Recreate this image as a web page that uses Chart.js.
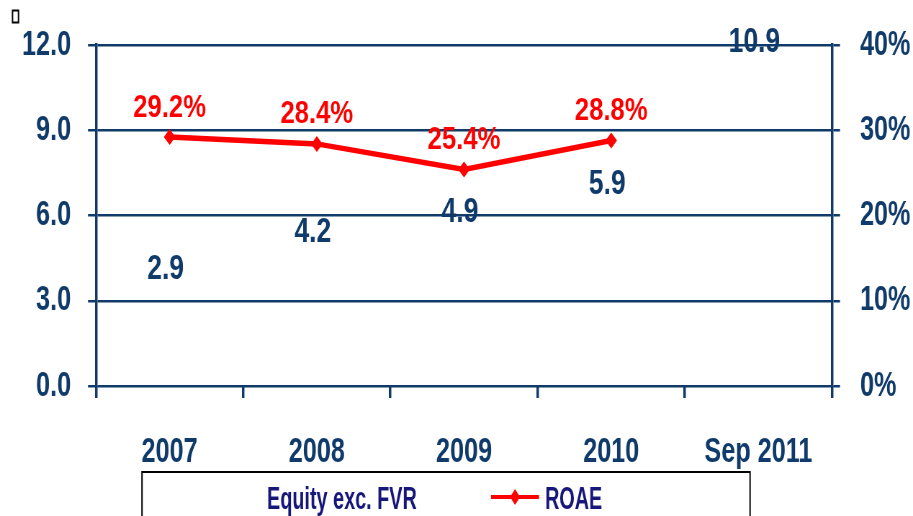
<!DOCTYPE html>
<html>
<head>
<meta charset="utf-8">
<script src="https://cdn.jsdelivr.net/npm/chart.js@4.4.1/dist/chart.umd.min.js"></script>
<style>
  html, body { margin: 0; padding: 0; background: #ffffff; overflow: hidden; }
  #wrap { width: 913px; height: 516px; position: relative; overflow: hidden; }
  #c { display: block; }
</style>
</head>
<body>
<div id="wrap"><canvas id="c"></canvas></div>
<script>
// Years on the category axis
const categories = ['2007', '2008', '2009', '2010', 'Sep 2011'];
// Equity excluding fair value reserve (left axis)
const equityExcFVR = [2.9, 4.2, 4.9, 5.9, 10.9];
// Return on average equity, % (right axis)
const roae = [29.2, 28.4, 25.4, 28.8, null];
// Axis tick values
const leftTicks = [0, 3, 6, 9, 12];
const rightTicks = [0, 10, 20, 30, 40];

// The chart is drawn on a wider canvas and squeezed horizontally,
// which gives the narrow, condensed look of the lettering.
const SQ = 0.72;
const OUT_W = 913, OUT_H = 516;
const CW = Math.round(OUT_W / SQ);
const px = v => v / SQ;   // horizontal length on the page -> canvas units

const NAVY = '#0f3a69';
const RED = '#ff0000';
const FONT = "'Liberation Sans', Arial, sans-serif";

// text with its own horizontal stretch
function stretchedText(ctx, s, x, y, sx) {
  ctx.save();
  ctx.translate(x, y);
  ctx.scale(sx, 1);
  ctx.fillText(s, 0, 0);
  ctx.restore();
}

// fixed axis widths, and no extra vertical room reserved for the end labels
function fixVertical(width) {
  return s => {
    s.width = width;
    s.paddingTop = 0;
    s.paddingBottom = 0;
  };
}

const valueLabels = {
  id: 'valueLabels',
  afterDatasetsDraw(chart) {
    const ctx = chart.ctx;
    ctx.save();
    ctx.textAlign = 'center';
    ctx.textBaseline = 'middle';
    // Equity values over the (unfilled) columns
    ctx.font = 'bold 35px ' + FONT;
    ctx.fillStyle = NAVY;
    chart.getDatasetMeta(0).data.forEach((bar, i) => {
      stretchedText(ctx, equityExcFVR[i].toFixed(1), bar.x - px(4), bar.y - 34, 1.05);
    });
    // ROAE percentages above the diamonds
    ctx.font = 'bold 31px ' + FONT;
    ctx.fillStyle = RED;
    chart.getDatasetMeta(1).data.forEach((pt, i) => {
      if (roae[i] == null) return;
      stretchedText(ctx, roae[i].toFixed(1) + '%', pt.x, pt.y - 29, 1.15);
    });
    ctx.restore();
  }
};

const legendBox = {
  id: 'legendBox',
  afterDraw(chart) {
    const ctx = chart.ctx;
    ctx.save();
    // small marker at the top-left corner
    ctx.strokeStyle = '#000';
    ctx.lineWidth = 2;
    ctx.strokeRect(px(12.5), 10.5, px(6), 12);
    // legend frame
    ctx.lineWidth = 2;
    ctx.strokeRect(px(142), 472, px(608), 70);
    ctx.textBaseline = 'middle';
    ctx.textAlign = 'left';
    ctx.fillStyle = '#17177a';
    ctx.font = 'bold 32px ' + FONT;
    stretchedText(ctx, chart.data.datasets[0].label, px(267), 500, 0.86);
    stretchedText(ctx, chart.data.datasets[1].label, px(545), 500, 0.86);
    // ROAE swatch: line with diamond
    ctx.strokeStyle = RED;
    ctx.lineWidth = 4;
    ctx.beginPath();
    ctx.moveTo(px(491), 497);
    ctx.lineTo(px(539), 497);
    ctx.stroke();
    ctx.fillStyle = RED;
    ctx.beginPath();
    ctx.moveTo(px(515), 489);
    ctx.lineTo(px(520), 497);
    ctx.lineTo(px(515), 505);
    ctx.lineTo(px(510), 497);
    ctx.closePath();
    ctx.fill();
    ctx.restore();
  }
};

const canvas = document.getElementById('c');
canvas.width = CW;
canvas.height = OUT_H;

new Chart(canvas, {
  data: {
    labels: categories,
    datasets: [
      {
        type: 'bar',
        label: 'Equity exc. FVR',
        data: equityExcFVR,
        yAxisID: 'y',
        backgroundColor: 'rgba(255,255,255,0)',
        borderWidth: 0,
        order: 2
      },
      {
        type: 'line',
        label: 'ROAE',
        data: roae,
        yAxisID: 'y1',
        borderColor: RED,
        backgroundColor: RED,
        borderWidth: 5.5,
        pointStyle: 'rectRot',
        pointRadius: 8,
        pointHoverRadius: 8,
        pointBorderWidth: 0,
        tension: 0,
        spanGaps: false,
        order: 1
      }
    ]
  },
  options: {
    responsive: false,
    animation: false,
    devicePixelRatio: 1,
    events: [],
    layout: { padding: { top: 45, left: 0, right: 0, bottom: 0 } },
    plugins: { legend: { display: false }, tooltip: { enabled: false } },
    scales: {
      x: {
        offset: true,
        afterFit(s) { s.height = 130; },
        grid: { offset: true, drawOnChartArea: false, color: NAVY, lineWidth: px(2.5), tickLength: 12, tickColor: NAVY },
        border: { display: false },
        ticks: { color: NAVY, font: { family: FONT, size: 35, weight: 'bold' }, padding: 33, maxRotation: 0, autoSkip: false }
      },
      y: {
        position: 'left',
        min: 0, max: 12,
        afterFit: fixVertical(px(96)),
        afterBuildTicks(s) { s.ticks = leftTicks.map(v => ({ value: v })); },
        grid: { color: NAVY, lineWidth: 2.5, tickLength: px(8), tickColor: NAVY },
        border: { display: true, color: NAVY, width: px(2.5) },
        ticks: { color: NAVY, font: { family: FONT, size: 35, weight: 'bold' }, padding: px(17), callback: v => Number(v).toFixed(1) }
      },
      y1: {
        position: 'right',
        min: 0, max: 40,
        afterFit: fixVertical(px(81)),
        afterBuildTicks(s) { s.ticks = rightTicks.map(v => ({ value: v })); },
        grid: { drawOnChartArea: false, color: NAVY, lineWidth: 2.5, tickLength: px(8), tickColor: NAVY },
        border: { display: true, color: NAVY, width: px(2.5) },
        ticks: { color: NAVY, font: { family: FONT, size: 35, weight: 'bold' }, padding: px(20), callback: v => v + '%' }
      }
    }
  },
  plugins: [valueLabels, legendBox]
});

// squeeze the rendered canvas back to the page width
canvas.style.width = OUT_W + 'px';
canvas.style.height = OUT_H + 'px';
</script>
</body>
</html>
